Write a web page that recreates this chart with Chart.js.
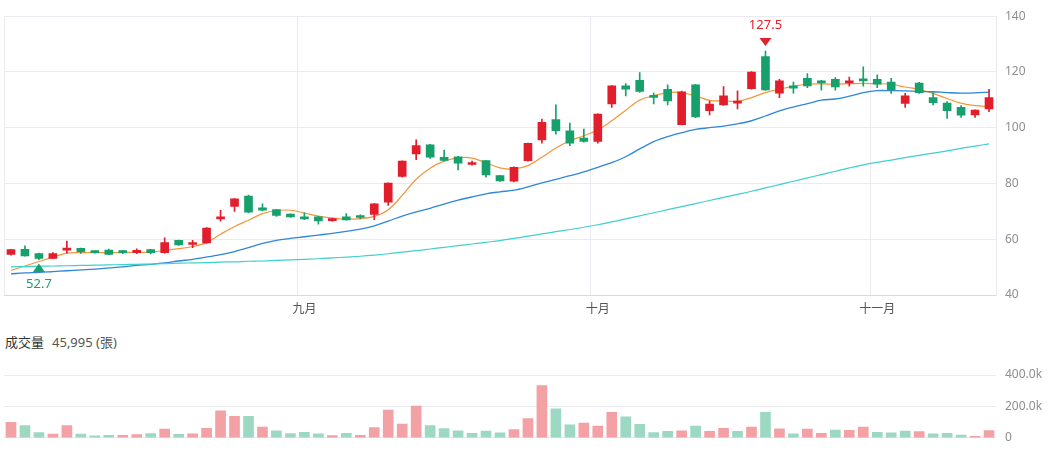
<!DOCTYPE html>
<html><head><meta charset="utf-8">
<script src="https://cdn.jsdelivr.net/npm/chart.js@4/dist/chart.umd.min.js"></script>
<style>
html,body{margin:0;padding:0;background:#fff;}
#wrap{position:relative;width:1052px;height:454px;overflow:hidden;font-family:"Noto Sans","Noto Sans CJK TC",sans-serif;}
#pc{position:absolute;left:0;top:0;}
#vc{position:absolute;left:0;top:356px;}
#vlabel{position:absolute;left:5px;top:333px;font-size:13px;line-height:18px;color:#333;white-space:nowrap;}
#vlabel span{color:#555;margin-left:8px;}
</style></head>
<body><div id="wrap">
<canvas id="pc" width="1052" height="322"></canvas>
<div id="vlabel">成交量<span id="vval"></span></div>
<canvas id="vc" width="1052" height="98"></canvas>
</div>
<script>
// ---- data ----
const monthLabels = ['九月', '十月', '十一月'];
const monthStart = [21, 42, 62];
const openP  = [54.6,56.4,54.9,53.1,56.1,56.7,55.7,56.1,55.5,55.2,56.3,55.2,59.6,58.1,58.7,67.3,71.8,75.5,71.3,70.6,69.0,68.0,68.0,66.7,68.0,68.4,68.9,73.3,82.5,90.6,93.9,89.4,89.6,86.8,88.2,82.8,80.8,88.2,95.6,102.9,98.9,96.3,95.1,108.5,115.0,117.0,111.2,113.8,101.1,115.4,106.1,108.2,108.8,114.0,125.5,112.4,115.0,117.7,116.8,117.4,116.1,117.4,117.4,116.4,108.7,116.0,110.8,108.8,107.3,104.6,106.7];
const highP  = [56.4,57.6,55.0,55.2,59.3,56.8,55.8,56.5,56.0,56.6,56.4,60.5,59.7,59.6,64.2,70.4,74.6,75.8,72.7,70.7,69.1,69.5,68.2,67.6,69.2,68.8,72.8,80.2,88.1,95.7,94.0,92.0,89.7,88.0,88.3,82.9,86.0,94.5,103.1,108.2,101.7,99.5,105.0,115.1,115.8,119.8,112.4,115.4,113.1,115.6,109.6,114.8,113.2,120.1,127.5,117.4,116.4,119.4,117.0,118.0,118.2,121.8,119.0,117.7,112.3,116.3,112.6,109.4,107.9,106.4,113.8];
const lowP   = [54.3,53.9,52.7,53.0,55.0,54.9,55.0,54.5,54.8,54.8,54.7,55.0,57.8,57.0,58.5,66.5,70.0,69.4,70.2,68.2,67.9,67.0,65.4,66.4,66.8,67.3,67.0,72.1,82.3,88.5,89.0,88.0,84.9,86.6,82.3,80.7,80.6,88.0,94.5,97.7,93.6,94.8,94.5,107.3,111.4,112.7,108.5,108.2,101.0,103.6,104.6,108.0,106.7,113.8,113.4,110.8,112.4,114.4,113.5,113.5,114.9,114.9,114.4,112.3,107.3,112.3,108.2,103.3,103.7,103.7,105.8];
const closeP = [56.3,54.0,53.1,54.9,56.5,55.5,55.2,54.6,55.2,56.0,55.2,58.8,58.0,58.5,64.0,67.9,74.5,69.7,70.4,68.5,68.0,67.3,66.6,67.3,66.9,67.8,72.7,80.1,88.0,93.6,89.4,88.3,87.3,87.2,83.1,80.9,85.8,94.4,101.9,98.9,94.5,95.1,104.9,115.0,113.8,113.0,110.9,109.6,112.9,103.9,108.5,111.4,109.4,120.0,113.6,116.8,114.2,115.0,116.1,114.6,116.6,116.8,115.6,113.6,111.4,112.6,109.0,106.1,104.5,106.3,110.8];
const ma5  = [48.8,50.4,52.0,53.6,55.0,55.2,55.2,55.2,55.2,55.3,55.4,56.0,56.6,57.4,58.8,61.8,64.6,66.8,69.2,70.3,70.4,69.4,68.3,67.6,67.2,67.4,68.2,70.6,75.7,81.5,85.5,88.0,89.2,89.1,87.4,85.6,85.2,86.4,89.4,92.7,95.3,97.1,99.2,102.5,106.3,109.9,111.5,112.6,112.6,111.4,109.8,109.6,109.5,110.8,112.6,113.8,114.9,115.6,115.7,115.6,115.8,115.9,115.8,115.6,114.6,113.8,112.3,110.5,108.8,107.9,107.6];
const ma20 = [47.6,47.9,48.1,48.4,48.7,49.0,49.3,49.7,50.1,50.6,51.0,51.5,52.2,52.8,53.6,54.5,55.6,57.0,58.5,59.6,60.3,60.9,61.5,62.1,62.8,63.6,64.8,66.5,68.3,69.8,71.1,72.6,74.0,75.2,76.3,77.0,77.6,78.8,80.2,81.5,82.8,84.2,85.8,87.5,89.6,92.4,95.0,96.8,98.2,99.4,100.0,100.6,101.4,102.5,104.2,106.0,107.4,108.6,109.9,110.3,111.3,112.6,113.3,113.3,113.2,113.0,112.9,112.6,112.4,112.5,112.8];
const ma60 = [50.1,50.2,50.3,50.4,50.5,50.6,50.7,50.8,50.9,51.0,51.1,51.2,51.4,51.5,51.6,51.8,51.9,52.1,52.2,52.4,52.6,52.8,53.0,53.3,53.6,53.9,54.3,54.8,55.4,55.9,56.5,57.1,57.7,58.3,58.9,59.5,60.3,61.1,61.9,62.7,63.5,64.3,65.2,66.2,67.3,68.4,69.5,70.6,71.7,72.8,73.9,75.0,76.1,77.2,78.4,79.6,80.8,82.0,83.2,84.4,85.6,86.7,87.6,88.4,89.3,90.1,90.9,91.7,92.6,93.4,94.2];
const volume = [98000,78000,33000,24000,78000,24000,12000,15000,15000,20000,27000,55000,22000,25000,61000,171000,137000,137000,68000,45000,27000,35000,25000,14000,28000,16000,65000,176000,88000,202000,78000,59000,45000,29000,43000,31000,53000,123000,333000,184000,82000,94000,75000,163000,133000,86000,33000,41000,45000,75000,41000,61000,41000,69000,163000,57000,25000,55000,29000,49000,47000,69000,35000,31000,43000,39000,25000,29000,18000,10000,45995];
const priceTicks = [40, 60, 80, 100, 120, 140];
const volumeTicks = [0, 200000, 400000];

// ---- derived structures ----
const categories = openP.map((_, i) => i);
const UP = '#e21d2c', DOWN = '#16a06c', UPV = '#f4a1a5', DOWNV = '#9dd8c3';
const candleColor = openP.map((o, i) => closeP[i] >= o ? UP : DOWN);
const volColor = closeP.map((c, i) => (i === 0 ? c >= openP[0] : c >= closeP[i - 1]) ? UPV : DOWNV);
const wicks = lowP.map((l, i) => [l, highP[i]]);
const bodies = openP.map((o, i) => [o, closeP[i]]);
const FONT = '"Noto Sans","Noto Sans CJK TC",sans-serif';
const gridC = '#e9ebf1';

document.getElementById('vval').textContent = volume[volume.length - 1].toLocaleString('en-US') + ' (張)';

const markerPlugin = {
  id: 'hlMarkers',
  afterDatasetsDraw(chart) {
    const ctx = chart.ctx, xs = chart.scales.x, ys = chart.scales.y;
    const hi = Math.max(...highP), hiI = highP.indexOf(hi);
    const lo = Math.min(...lowP), loI = lowP.indexOf(lo);
    ctx.save();
    ctx.font = '13px ' + FONT;
    ctx.textAlign = 'center';
    ctx.textBaseline = 'middle';
    let px = xs.getPixelForValue(hiI), py = ys.getPixelForValue(hi);
    ctx.fillStyle = '#e3212d';
    ctx.beginPath(); ctx.moveTo(px - 6, py - 13); ctx.lineTo(px + 6, py - 13); ctx.lineTo(px, py - 5); ctx.closePath(); ctx.fill();
    ctx.fillText(hi.toFixed(1), px, py - 26);
    px = xs.getPixelForValue(loI); py = ys.getPixelForValue(lo);
    ctx.fillStyle = '#1d9e6f';
    ctx.beginPath(); ctx.moveTo(px - 6, py + 12.5); ctx.lineTo(px + 6, py + 12.5); ctx.lineTo(px, py + 4); ctx.closePath(); ctx.fill();
    ctx.fillText(lo.toFixed(1), px, py + 24.5);
    ctx.restore();
  }
};

const lineDs = (data, color, w) => ({
  type: 'line', data, borderColor: color, borderWidth: w, pointRadius: 0,
  tension: 0.35, fill: false, order: 5
});

new Chart(document.getElementById('pc'), {
  type: 'bar',
  data: {
    labels: categories,
    datasets: [
      lineDs(ma60, '#3fcfcf', 1.2),
      lineDs(ma20, '#2f86da', 1.3),
      lineDs(ma5, '#f3963a', 1.2),
      { data: wicks, backgroundColor: candleColor, barThickness: 1, grouped: false, order: 2 },
      { data: bodies, backgroundColor: candleColor, barThickness: 8, minBarLength: 2, grouped: false, order: 1 }
    ]
  },
  options: {
    responsive: false, animation: false,
    layout: { padding: { left: 4, top: 14, right: 0, bottom: 0 } },
    plugins: { legend: { display: false }, tooltip: { enabled: false } },
    scales: {
      x: {
        type: 'category', offset: true,
        afterFit(s) { s.height = 27; },
        grid: {
          offset: true, drawTicks: false,
          color: (c) => (c.index === 0 || monthStart.includes(c.index)) ? gridC : 'rgba(0,0,0,0)',
          lineWidth: 1
        },
        border: { display: true, color: '#d8dae2' },
        ticks: {
          autoSkip: false, maxRotation: 0, padding: 7, color: '#555',
          font: { size: 12, family: FONT },
          callback: (v, i) => { const k = monthStart.indexOf(i); return k >= 0 ? monthLabels[k] : ''; }
        }
      },
      y: {
        position: 'right', min: priceTicks[0], max: priceTicks[priceTicks.length - 1],
        afterFit(s) { s.width = 56; },
        afterBuildTicks(s) { s.ticks = priceTicks.map(v => ({ value: v })); },
        grid: { drawTicks: false, color: gridC },
        border: { display: true, color: gridC },
        ticks: { padding: 9, color: '#8f8f8f', font: { size: 12, family: FONT } }
      }
    }
  },
  plugins: [markerPlugin]
});

new Chart(document.getElementById('vc'), {
  type: 'bar',
  data: {
    labels: categories,
    datasets: [{ data: volume, backgroundColor: volColor, barThickness: 10 }]
  },
  options: {
    responsive: false, animation: false,
    layout: { padding: { left: 4, top: 19, right: 0, bottom: 11 } },
    plugins: { legend: { display: false }, tooltip: { enabled: false } },
    scales: {
      x: { display: false, offset: true },
      y: {
        position: 'right', min: 0, max: volumeTicks[volumeTicks.length - 1],
        afterFit(s) { s.width = 56; },
        afterBuildTicks(s) { s.ticks = volumeTicks.map(v => ({ value: v })); },
        grid: { drawTicks: false, color: gridC },
        border: { display: false },
        ticks: {
          padding: 9, color: '#8f8f8f', font: { size: 12, family: FONT },
          callback: (v) => v === 0 ? '0' : (v / 1000).toFixed(1) + 'k'
        }
      }
    }
  }
});
</script>
</body></html>
